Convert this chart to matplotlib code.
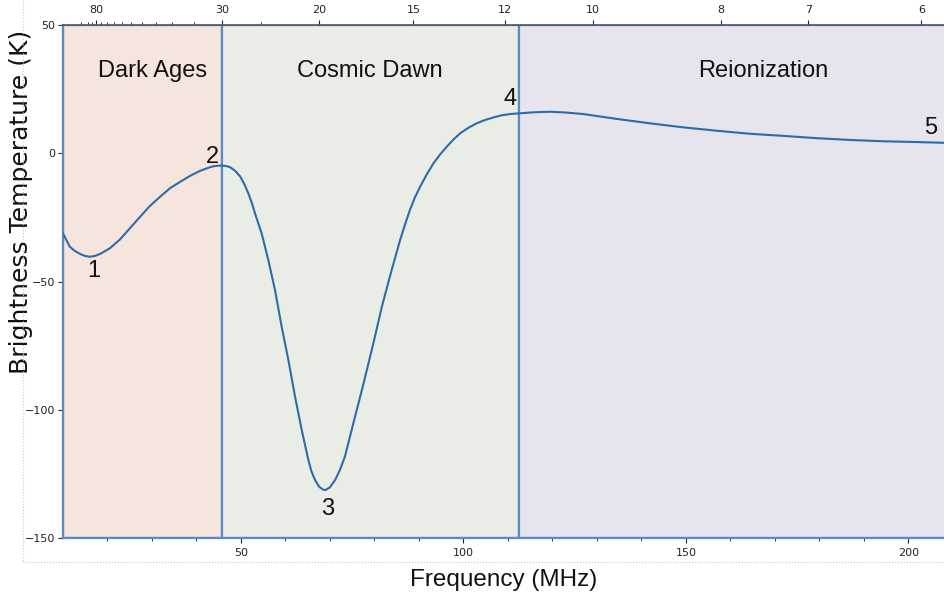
import numpy as np
import matplotlib
matplotlib.use("Agg")
import matplotlib.pyplot as plt
from matplotlib.lines import Line2D
from matplotlib.ticker import FixedLocator, FuncFormatter

# ---------------- data ----------------
freq = [10.0, 11.6, 12.7, 13.9, 15.0, 16.1, 17.2, 18.4, 20.6, 22.9, 25.1, 27.4,
        29.6, 31.9, 34.1, 36.4, 38.6, 40.9, 43.1, 44.0, 45.0, 45.7, 46.6, 47.6,
        48.8, 49.9, 50.8, 51.7, 52.5, 53.2, 54.7, 56.2, 57.7, 59.2, 60.7, 62.2,
        63.7, 65.2, 65.9, 66.7, 67.6, 68.6, 69.0, 70.0, 71.2, 72.3, 73.4, 75.3,
        77.6, 79.8, 81.7, 83.9, 85.8, 86.9, 88.0, 89.1, 90.3, 91.8, 93.3, 94.8,
        96.3, 97.8, 99.3, 101.1, 103.0, 104.9, 106.8, 108.6, 110.5, 112.8, 116.0,
        119.5, 123.0, 127.0, 134.5, 141.9, 149.5, 157.0, 164.5, 171.9, 179.4,
        186.9, 194.4, 201.9, 208.0]
temp = [-31.0, -36.4, -38.0, -39.2, -40.0, -40.3, -40.0, -39.2, -37.0, -33.5,
        -29.2, -24.7, -20.5, -16.9, -13.6, -11.1, -8.8, -6.8, -5.4, -5.0, -4.8,
        -4.8, -4.9, -5.4, -6.9, -9.1, -12.0, -15.6, -19.4, -23.4, -31.2, -41.6,
        -53.3, -67.6, -80.5, -94.8, -107.8, -119.5, -124.0, -127.3, -129.9,
        -131.1, -131.2, -130.2, -127.3, -123.3, -118.2, -105.2, -89.6, -74.0,
        -59.8, -45.5, -33.8, -27.8, -22.1, -17.3, -13.0, -8.2, -3.9, -0.4, 2.6,
        5.4, 7.8, 9.9, 11.7, 13.0, 14.0, 14.8, 15.3, 15.6, 16.0, 16.2, 15.9,
        15.3, 13.4, 11.7, 10.1, 8.8, 7.6, 6.8, 5.9, 5.2, 4.7, 4.4, 4.1]

era_names = ["Dark Ages", "Cosmic Dawn", "Reionization"]
era_start = [10.0, 45.7, 112.5]
era_end = [45.7, 112.5, 230.0]
era_label_x = [30.1, 78.9, 167.4]
era_label_y = 32.0
era_colors = ["#F6E5DC", "#EAEDE5", "#E7E4ED"]

point_labels = ["1", "2", "3", "4", "5"]
point_x = [17.0, 43.6, 69.6, 110.5, 205.1]
point_y = [-45.9, -1.4, -138.6, 21.2, 9.9]

z_major = [80, 30, 20, 15, 12, 10, 8, 7, 6]
z_minor = [25, 35, 40, 45, 50, 55, 60, 65, 70, 75, 85, 90, 100]
x_major = [50, 100, 150, 200]
y_major = [50, 0, -50, -100, -150]

# ---------------- figure ----------------
W, H = 944, 594
fig = plt.figure(figsize=(W / 100, H / 100), dpi=100)
fig.patch.set_facecolor("white")

left_px, right_px, top_px, bottom_px = 62.7, 944.0, 25.0, 538.3
ax = fig.add_axes([left_px / W, 1 - bottom_px / H,
                   (right_px - left_px) / W, (bottom_px - top_px) / H])
ax.set_xlim(10, 208)
ax.set_ylim(-150, 50)
ax.set_facecolor("white")

edge_blue = "#5B8AC6"
for s, e, c in zip(era_start, era_end, era_colors):
    ax.axvspan(s, e, ymin=0, ymax=1, facecolor=c, edgecolor=edge_blue,
               linewidth=1.6, zorder=1)

ax.plot(freq, temp, color="#2E6BA8", linewidth=1.5, zorder=3,
        solid_joinstyle="round")

label_font = ["Liberation Sans", "DejaVu Sans"]
for name, lx in zip(era_names, era_label_x):
    ax.text(lx, era_label_y, name, ha="center", va="center", fontsize=17,
            family=label_font, color="#111111", zorder=4)
for t, px, py in zip(point_labels, point_x, point_y):
    ax.text(px, py, t, ha="center", va="center", fontsize=17,
            family=label_font, color="#111111", zorder=4)

# spines
for side in ["left", "bottom"]:
    ax.spines[side].set_color(edge_blue)
    ax.spines[side].set_linewidth(1.6)
ax.spines["right"].set_visible(False)
ax.spines["top"].set_color("#4a5668")
ax.spines["top"].set_linewidth(1.2)

ax.set_xticks(x_major)
ax.xaxis.set_minor_locator(FixedLocator(np.arange(20, 210, 10)))
ax.set_yticks(y_major)
ax.tick_params(axis="both", which="major", labelsize=8, length=3.5, width=0.8,
               colors="#222222", direction="out")
ax.tick_params(axis="x", which="minor", length=2.5, width=0.7, colors="#333333")
ax.tick_params(axis="y", which="major", pad=2)

# top redshift axis
def f2z(f):
    f = np.asarray(f, dtype=float)
    with np.errstate(divide="ignore", invalid="ignore"):
        return 1420.4 / f - 1

def z2f(z):
    z = np.asarray(z, dtype=float)
    with np.errstate(divide="ignore", invalid="ignore"):
        return 1420.4 / (1 + z)

sec = ax.secondary_xaxis("top", functions=(f2z, z2f))
sec.xaxis.set_major_locator(FixedLocator(z_major))
sec.xaxis.set_minor_locator(FixedLocator(z_minor))
sec.xaxis.set_major_formatter(FuncFormatter(lambda v, p: f"{int(round(v))}"))
sec.tick_params(axis="x", which="major", labelsize=8, length=3.5, width=0.8,
                colors="#222222")
sec.tick_params(axis="x", which="minor", length=2.5, width=0.7, colors="#333333")
sec.spines["top"].set_color("#4a5668")

ax.set_xlabel("Frequency (MHz)", fontsize=17.5,
              family=["Liberation Sans", "DejaVu Sans"],
              color="#111111", labelpad=8)
ax.set_ylabel("Brightness Temperature (K)", fontsize=18, family=["DejaVu Sans"],
              color="#111111")
ax.yaxis.set_label_coords((33 - left_px) / (right_px - left_px),
                          (bottom_px - 202) / (bottom_px - top_px))

# light dotted frame
fig.add_artist(Line2D([23 / W, 23 / W], [1.0, 1 - 562 / H], transform=fig.transFigure,
                      color="#c8c8c8", linestyle=":", linewidth=0.8))
fig.add_artist(Line2D([23 / W, 1.0], [1 - 562 / H, 1 - 562 / H], transform=fig.transFigure,
                      color="#c8c8c8", linestyle=":", linewidth=0.8))

fig.savefig("out.png", dpi=100)
